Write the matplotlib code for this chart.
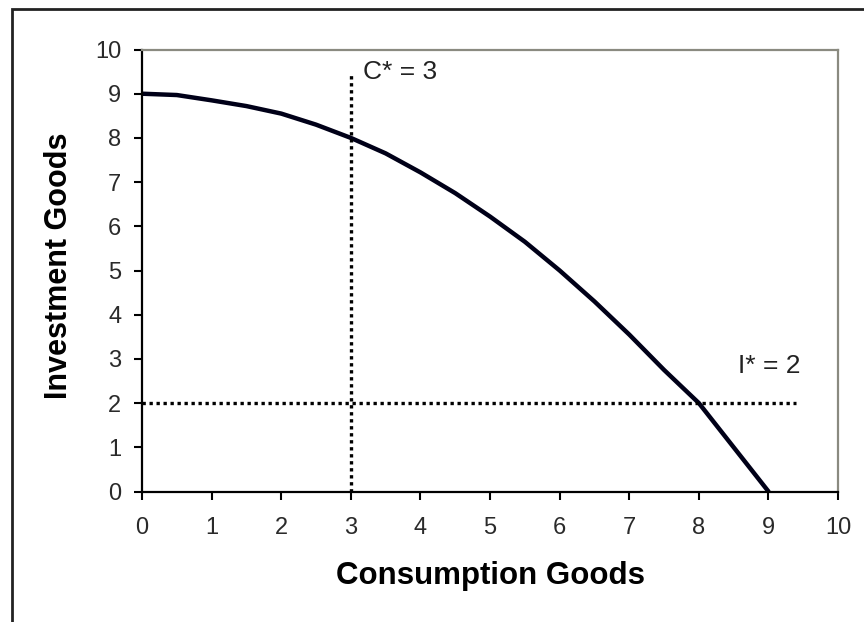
import matplotlib.pyplot as plt
from matplotlib.patches import Rectangle

plt.rcParams['font.family'] = ['Liberation Sans', 'DejaVu Sans']

# production possibilities frontier
consumption = [0, 0.5, 1, 1.5, 2, 2.5, 3, 3.5, 4, 4.5, 5, 5.5, 6, 6.5, 7, 7.5, 8, 8.5, 9]
investment = [9.0, 8.97, 8.85, 8.72, 8.55, 8.3, 8.0, 7.65, 7.22, 6.75, 6.22,
              5.65, 5.0, 4.3, 3.55, 2.75, 2.0, 1.0, 0.0]

c_star = 3
i_star = 2
c_line_top = 9.46
i_line_end = 9.4
ticks = list(range(0, 11))

fig = plt.figure(figsize=(8.64, 6.22), dpi=100)
ax = fig.add_axes([0.1644, 0.2098, 0.8056, 0.7106])

ax.plot(consumption, investment, color='#000018', lw=3.2, solid_capstyle='round')
ax.plot([c_star, c_star], [0, c_line_top], color='black', lw=2.4,
        linestyle=(0, (1, 1.1)))
ax.plot([0, i_line_end], [i_star, i_star], color='black', lw=2.4,
        linestyle=(0, (1, 1.1)))

ax.text(3.18, 9.48, f"C* = {c_star}", fontsize=19, va='center', ha='left',
        color='#222222')
ax.text(8.56, 2.84, f"I* = {i_star}", fontsize=19, va='center', ha='left',
        color='#222222')

ax.set_xlim(0, 10)
ax.set_ylim(0, 10)
ax.set_xticks(ticks)
ax.set_yticks(ticks)
ax.tick_params(direction='out', length=6, width=1.5, labelsize=17,
               labelcolor='#2a2a2a')
ax.tick_params(axis='x', pad=12)
ax.tick_params(axis='y', pad=9)

for side in ['left', 'bottom']:
    ax.spines[side].set_color('black')
    ax.spines[side].set_linewidth(1.6)
for side in ['top', 'right']:
    ax.spines[side].set_color('#8a8a80')
    ax.spines[side].set_linewidth(1.6)

fig.text(490 / 864, 1 - 576 / 622, "Consumption Goods", fontsize=22.5,
         fontweight='bold', ha='center', va='center')
fig.text(59 / 864, 1 - 266 / 622, "Investment Goods", fontsize=22,
         fontweight='bold', ha='center', va='center', rotation=90)

# outer chart border (runs off the right and bottom edges)
fig.patches.append(Rectangle((12 / 864, -0.05), 1.0, 1.05 - 9 / 622,
                             transform=fig.transFigure, fill=False,
                             edgecolor='#222222', lw=2))

fig.savefig('out.png', dpi=100)
